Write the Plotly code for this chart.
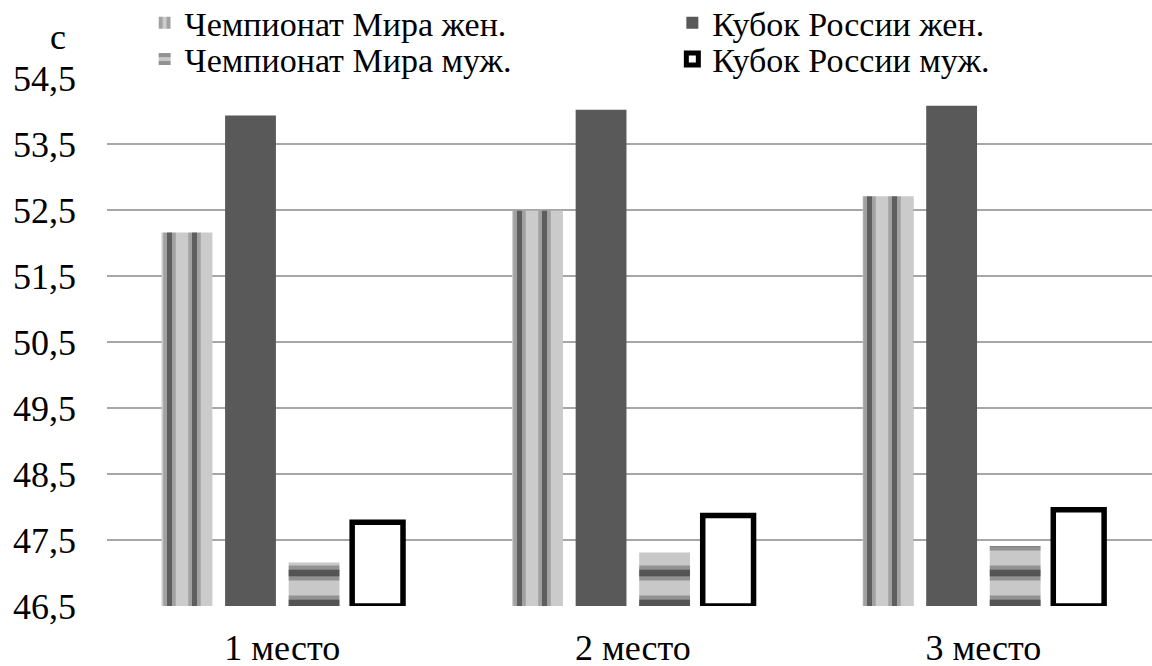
import plotly.graph_objects as go

# Categories and series values (seconds)
places = ["1 место", "2 место", "3 место"]
wc_women = [52.16, 52.49, 52.71]   # Чемпионат Мира жен.
rc_women = [53.93, 54.02, 54.08]   # Кубок России жен.
wc_men = [47.16, 47.31, 47.41]     # Чемпионат Мира муж.
rc_men = [47.77, 47.87, 47.96]     # Кубок России муж.

y_ticks = [46.5, 47.5, 48.5, 49.5, 50.5, 51.5, 52.5, 53.5, 54.5]
unit_label = "с"

FONT = "Liberation Serif, Times New Roman, serif"
BASE = y_ticks[0]


def lengths(values):
    return [v - BASE for v in values]


fig = go.Figure()

# Чемпионат Мира жен. — vertical striped fill (soft halo + dark core)
fig.add_trace(go.Bar(
    x=places, y=lengths(wc_women), base=BASE, name="Чемпионат Мира жен.",
    offsetgroup="g1", legend="legend", cliponaxis=False,
    marker=dict(color="#cbcbcb", line=dict(width=0),
                pattern=dict(shape="|", size=25, solidity=0.5,
                             fgcolor="#777777", bgcolor="#cbcbcb")),
))
fig.add_trace(go.Bar(
    x=places, y=lengths(wc_women), base=BASE, showlegend=False, hoverinfo="skip",
    offsetgroup="g1", cliponaxis=False,
    marker=dict(color="rgba(0,0,0,0)", line=dict(width=0),
                pattern=dict(shape="|", size=25, solidity=0.2,
                             fgcolor="#1c1c1c", bgcolor="rgba(0,0,0,0)")),
))

# Кубок России жен. — solid dark grey
fig.add_trace(go.Bar(
    x=places, y=lengths(rc_women), base=BASE, name="Кубок России жен.",
    offsetgroup="g2", legend="legend2", cliponaxis=False,
    marker=dict(color="#595959", line=dict(width=0)),
))

# Чемпионат Мира муж. — horizontal striped fill
fig.add_trace(go.Bar(
    x=places, y=lengths(wc_men), base=BASE, name="Чемпионат Мира муж.",
    offsetgroup="g3", legend="legend3", cliponaxis=False,
    marker=dict(color="#c4c4c4", line=dict(width=0),
                pattern=dict(shape="-", size=30, solidity=0.5,
                             fgcolor="#5c5c5c", bgcolor="#c8c8c8")),
))
fig.add_trace(go.Bar(
    x=places, y=lengths(wc_men), base=BASE, showlegend=False, hoverinfo="skip",
    offsetgroup="g3", cliponaxis=False,
    marker=dict(color="rgba(0,0,0,0)", line=dict(width=0),
                pattern=dict(shape="-", size=30, solidity=0.22,
                             fgcolor="#161616", bgcolor="rgba(0,0,0,0)")),
))

# Кубок России муж. — white with heavy black outline
fig.add_trace(go.Bar(
    x=places, y=lengths(rc_men), base=BASE, name="Кубок России муж.",
    offsetgroup="g4", legend="legend4", cliponaxis=False,
    marker=dict(color="white", line=dict(width=5.5, color="black")),
))


def legend_at(x, y):
    return dict(
        x=x, y=y, orientation="h", xanchor="left", yanchor="top",
        font=dict(family=FONT, size=34, color="black"),
        bgcolor="rgba(0,0,0,0)", borderwidth=0,
        itemclick=False, itemdoubleclick=False,
    )


# legend grid: two columns, two rows above the plot
col_x = [0.036, 0.541]
row_y = [1.159, 1.090]

fig.update_layout(
    width=1152, height=666, autosize=False,
    margin=dict(l=107, r=0, t=78, b=60, pad=0, autoexpand=False),
    paper_bgcolor="white", plot_bgcolor="white",
    font=dict(family=FONT, size=36, color="black"),
    barmode="group", bargap=0.275, bargroupgap=0.2,
    showlegend=True,
    legend=legend_at(col_x[0], row_y[0]),
    legend2=legend_at(col_x[1], row_y[0]),
    legend3=legend_at(col_x[0], row_y[1]),
    legend4=legend_at(col_x[1], row_y[1]),
    xaxis=dict(
        type="category", range=[-0.5, 2.481],
        showgrid=False, zeroline=False, showline=False,
        ticks="", ticklabelstandoff=17,
        tickfont=dict(family=FONT, size=36, color="black"),
    ),
    yaxis=dict(
        range=[y_ticks[0], y_ticks[-1]],
        tickmode="array", tickvals=y_ticks,
        ticktext=[f"{v:.1f}".replace(".", ",") for v in y_ticks],
        showgrid=True, gridcolor="#a6a6a6", gridwidth=2,
        zeroline=False, showline=False, ticks="",
        ticklabelstandoff=30,
        tickfont=dict(family=FONT, size=36, color="black"),
    ),
    annotations=[dict(
        text=unit_label, xref="paper", yref="paper",
        x=-0.047, y=1.078, xanchor="center", yanchor="middle",
        showarrow=False, font=dict(family=FONT, size=36, color="black"),
    )],
)

fig.write_html("out.html")
